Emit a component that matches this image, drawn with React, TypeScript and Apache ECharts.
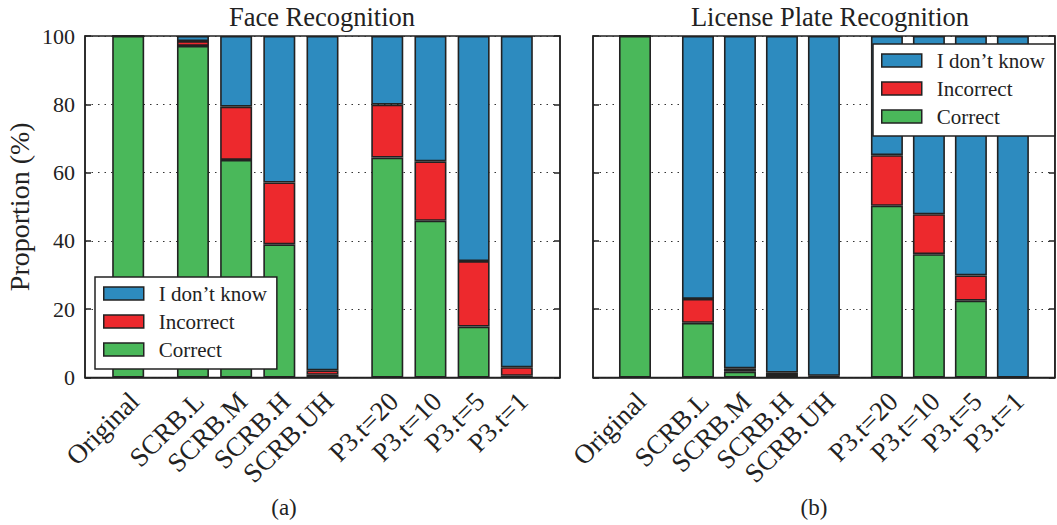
import React, { useEffect, useRef } from "react";
import * as echarts from "echarts";

const categories = ["Original", "SCRB.L", "SCRB.M", "SCRB.H", "SCRB.UH", "P3.t=20", "P3.t=10", "P3.t=5", "P3.t=1"];
const xPositions = [0, 1.5, 2.5, 3.5, 4.5, 6, 7, 8, 9];
const xRange = [-1, 10];
const xStep = 0.5;

const faceCorrect = [100, 97.1, 63.7, 39.0, 0.8, 64.4, 45.9, 14.9, 0.5];
const faceIncorrect = [0, 1.4, 15.6, 18.1, 1.3, 15.5, 17.4, 19.2, 2.5];
const faceUnknown = [0, 1.5, 20.7, 42.9, 97.9, 20.1, 36.7, 65.9, 97.0];

const plateCorrect = [100, 16.0, 1.7, 0.7, 0.2, 50.3, 36.1, 22.5, 0];
const plateIncorrect = [0, 7.0, 1.0, 0.7, 0.3, 14.8, 11.7, 7.4, 0];
const plateUnknown = [0, 77.0, 97.3, 98.6, 99.5, 34.9, 52.2, 70.1, 100];

const panelTitles = ["Face Recognition", "License Plate Recognition"];
const subCaptions = ["(a)", "(b)"];
const legendNames = ["I don\u2019t know", "Incorrect", "Correct"];
const yLabel = "Proportion (%)";

const FONT = "Liberation Serif";
const INK = "#222";
const COLORS: Record<string, string> = {
  "I don\u2019t know": "#2d8bbf",
  Incorrect: "#ed292d",
  Correct: "#4ab85a",
};

// slots on a fine category axis (half-unit resolution, edges included)
const nSlots = Math.round((xRange[1] - xRange[0]) / xStep) + 1;
const slotIndex = xPositions.map((p) => Math.round((p - xRange[0]) / xStep));
const slotLabels = Array.from({ length: nSlots }, (_, s) => {
  const i = slotIndex.indexOf(s);
  return i >= 0 ? categories[i] : "";
});
const toSlots = (vals: number[]) =>
  Array.from({ length: nSlots }, (_, s) => {
    const i = slotIndex.indexOf(s);
    return i >= 0 ? vals[i] : "-";
  });

export default function App() {
  const ref = useRef<HTMLDivElement>(null);

  useEffect(() => {
    if (!ref.current) return;
    const chart = echarts.init(ref.current, null, { renderer: "svg" });

    const gridW = 475;
    const gridH = 341.5;
    const grids = [
      { left: 85, top: 36, width: gridW, height: gridH },
      { left: 593, top: 36, width: gridW, height: gridH },
    ];

    const xAxes = grids.map((_, gi) => ({
      type: "category",
      gridIndex: gi,
      data: slotLabels,
      boundaryGap: false,
      axisLine: { show: true, onZero: false, lineStyle: { color: INK, width: 1.5 } },
      axisTick: { show: false },
      splitLine: { show: false },
      axisLabel: {
        show: true,
        interval: 0,
        rotate: 45,
        margin: 13,
        verticalAlign: "top",
        lineHeight: 18,
        fontFamily: FONT,
        fontSize: 27,
        color: INK,
      },
    }));

    const yAxes: any[] = [];
    grids.forEach((_, gi) => {
      yAxes.push({
        type: "value",
        gridIndex: gi,
        position: "left",
        min: 0,
        max: 100,
        interval: 20,
        name: gi === 0 ? yLabel : "",
        nameLocation: "middle",
        nameRotate: 90,
        nameGap: 52,
        nameTextStyle: { fontFamily: FONT, fontSize: 28, color: INK },
        axisLine: { show: true, lineStyle: { color: INK, width: 1.5 } },
        axisTick: { show: true, inside: true, length: 6, lineStyle: { color: INK, width: 1.5 } },
        axisLabel: {
          show: gi === 0,
          margin: 10,
          fontFamily: FONT,
          fontSize: 22,
          color: INK,
        },
        splitLine: { show: true, lineStyle: { color: "#333", width: 1, type: [1.5, 5] } },
      });
      yAxes.push({
        type: "value",
        gridIndex: gi,
        position: "right",
        min: 0,
        max: 100,
        interval: 20,
        axisLine: { show: true, lineStyle: { color: INK, width: 1.5 } },
        axisTick: { show: true, inside: true, length: 6, lineStyle: { color: INK, width: 1.5 } },
        axisLabel: { show: false },
        splitLine: { show: false },
      });
    });

    const panels = [
      { correct: faceCorrect, incorrect: faceIncorrect, unknown: faceUnknown },
      { correct: plateCorrect, incorrect: plateIncorrect, unknown: plateUnknown },
    ];

    const series: any[] = [];
    panels.forEach((p, gi) => {
      const parts: [string, number[]][] = [
        ["Correct", p.correct],
        ["Incorrect", p.incorrect],
        ["I don\u2019t know", p.unknown],
      ];
      parts.forEach(([name, vals]) => {
        series.push({
          type: "bar",
          name,
          xAxisIndex: gi,
          yAxisIndex: gi * 2,
          stack: "s" + gi,
          barWidth: 32,
          data: toSlots(vals),
          itemStyle: { color: COLORS[name], borderColor: INK, borderWidth: 1.6 },
          emphasis: { disabled: true },
        });
      });
    });

    const legendCommon = {
      orient: "vertical",
      data: legendNames,
      selectedMode: false,
      backgroundColor: "#fff",
      borderColor: INK,
      borderWidth: 1.5,
      borderRadius: 0,
      itemWidth: 40,
      itemHeight: 13,
      itemGap: 7,
      icon: "rect",
      itemStyle: { borderColor: INK, borderWidth: 1.5 },
      textStyle: { fontFamily: FONT, fontSize: 21, color: INK, padding: [0, 0, 0, 10] },
      padding: [6, 10, 9, 8],
      z: 10,
    };

    const textStyle = (size: number) => ({ fontFamily: FONT, fontSize: size, fontWeight: "normal", color: INK });

    chart.setOption({
      animation: false,
      backgroundColor: "#fff",
      title: [
        { text: panelTitles[0], left: 322, top: 3, textAlign: "center", padding: 0, textStyle: textStyle(26.5) },
        { text: panelTitles[1], left: 830, top: 3, textAlign: "center", padding: 0, textStyle: textStyle(26.5) },
        { text: subCaptions[0], left: 284, top: 496, textAlign: "center", padding: 0, textStyle: textStyle(23) },
        { text: subCaptions[1], left: 814, top: 496, textAlign: "center", padding: 0, textStyle: textStyle(23) },
      ],
      grid: grids.map((g) => ({
        ...g,
        show: true,
        borderColor: INK,
        borderWidth: 1.5,
        backgroundColor: "transparent",
        containLabel: false,
      })),
      legend: [
        { ...legendCommon, left: 95, top: 277 },
        { ...legendCommon, left: 873, top: 44 },
      ],
      xAxis: xAxes,
      yAxis: yAxes,
      series,
    });

    return () => chart.dispose();
  }, []);

  return (
    <div
      ref={ref}
      style={{ position: "fixed", left: 0, top: 0, width: 1057, height: 525, background: "#fff" }}
    />
  );
}
